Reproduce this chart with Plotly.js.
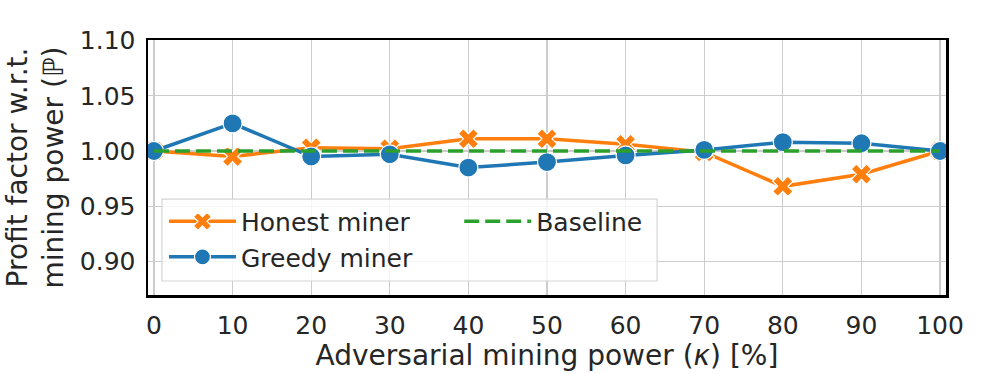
<!DOCTYPE html>
<html>
<head>
<meta charset="utf-8">
<script src="https://cdn.plot.ly/plotly-3.0.1.min.js"></script>
<style>body{margin:0;padding:0;background:#fff}#chart{width:997px;height:374px}</style>
</head>
<body>
<div id="chart"></div>
<script>
const kappa = [0, 10, 20, 30, 40, 50, 60, 70, 80, 90, 100];
const honest = [1.000, 0.995, 1.003, 1.002, 1.011, 1.011, 1.006, 0.999, 0.968, 0.979, 1.000];
const greedy = [1.000, 1.025, 0.995, 0.997, 0.985, 0.990, 0.996, 1.001, 1.008, 1.007, 1.000];
const baseline = [1, 1, 1, 1, 1, 1, 1, 1, 1, 1, 1];
const xTicks = [0, 10, 20, 30, 40, 50, 60, 70, 80, 90, 100];
const yTicks = [0.90, 0.95, 1.00, 1.05, 1.10];
const yTickText = ['0.90', '0.95', '1.00', '1.05', '1.10'];

const FONT = 'DejaVu Sans, sans-serif';
const TXT = '#262626';
const traces = [
  {x: kappa, y: honest, name: 'Honest miner', mode: 'lines+markers', legend: 'legend',
   line: {color: '#ff7f0e', width: 3.5},
   marker: {symbol: 'x', size: 18, color: '#ff7f0e', line: {color: '#ffffff', width: 1.2}}},
  {x: kappa, y: greedy, name: 'Greedy miner', mode: 'lines+markers', legend: 'legend',
   line: {color: '#1f77b4', width: 3.5},
   marker: {symbol: 'circle', size: 19, color: '#1f77b4', line: {color: '#ffffff', width: 1.2}}},
  {x: kappa, y: baseline, name: 'Baseline', mode: 'lines', legend: 'legend2',
   line: {color: '#2ca02c', width: 3.5, dash: '15px,6px'}}
];

const layout = {
  width: 997, height: 374,
  margin: {l: 148, r: 51, t: 40, b: 79},
  paper_bgcolor: '#ffffff', plot_bgcolor: '#ffffff',
  font: {family: FONT, size: 25, color: TXT},
  showlegend: true,
  xaxis: {
    range: [-0.76, 100.76], tickvals: xTicks, ticktext: xTicks.map(String),
    showgrid: true, gridcolor: '#cccccc', gridwidth: 1.3, zeroline: false,
    showline: true, linecolor: '#000000', linewidth: 2.5, mirror: true,
    ticks: '', ticklabelstandoff: 6,
    tickfont: {size: 25, family: FONT, color: TXT},
    title: {text: 'Adversarial mining power (<i>κ</i>) [%]', font: {size: 28, family: FONT, color: TXT}, standoff: 3}
  },
  yaxis: {
    range: [0.8696, 1.1005], tickvals: yTicks, ticktext: yTickText,
    showgrid: true, gridcolor: '#cccccc', gridwidth: 1.3, zeroline: false,
    showline: true, linecolor: '#000000', linewidth: 2.5, mirror: true,
    ticks: '', ticklabelstandoff: 5,
    tickfont: {size: 25, family: FONT, color: TXT},
    title: {text: 'Profit factor w.r.t.<br>mining power (ℙ)', font: {size: 28, family: FONT, color: TXT}, standoff: 8}
  },
  legend: {x: 0.02, y: 0.378, xanchor: 'left', yanchor: 'top', bgcolor: 'rgba(0,0,0,0)',
    borderwidth: 0, font: {size: 25, family: FONT, color: TXT}, tracegroupgap: 2, itemwidth: 67},
  legend2: {x: 0.39, y: 0.378, xanchor: 'left', yanchor: 'top', bgcolor: 'rgba(0,0,0,0)',
    borderwidth: 0, font: {size: 25, family: FONT, color: TXT}, itemwidth: 67},
  shapes: [{type: 'rect', xref: 'paper', yref: 'paper', x0: 0.0175, x1: 0.638, y0: 0.055, y1: 0.376,
    line: {color: '#d5d5d5', width: 1.2}, fillcolor: 'rgba(255,255,255,0.8)', layer: 'above'}]
};

Plotly.newPlot('chart', traces, layout, {displayModeBar: false, staticPlot: true});
</script>
</body>
</html>
